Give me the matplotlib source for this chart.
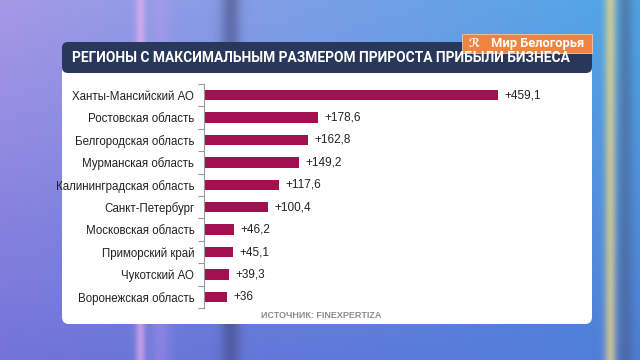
import numpy as np
import matplotlib
matplotlib.use("Agg")
import matplotlib.pyplot as plt
from matplotlib.patches import FancyBboxPatch, Rectangle

# Data
regions = ["Ханты-Мансийский АО", "Ростовская область", "Белгородская область",
           "Мурманская область", "Калининградская область", "Санкт-Петербург",
           "Московская область", "Приморский край", "Чукотский АО",
           "Воронежская область"]
growth = [459.1, 178.6, 162.8, 149.2, 117.6, 100.4, 46.2, 45.1, 39.3, 36]
value_labels = ["+459,1", "+178,6", "+162,8", "+149,2", "+117,6", "+100,4",
                "+46,2", "+45,1", "+39,3", "+36"]

title = "РЕГИОНЫ С МАКСИМАЛЬНЫМ РАЗМЕРОМ ПРИРОСТА ПРИБЫЛИ БИЗНЕСА"
source = "ИСТОЧНИК: FINEXPERTIZA"
logo = "Мир Белогорья"

W, H = 640, 360
fig = plt.figure(figsize=(6.4, 3.6), dpi=100)

# Blurred studio background
xx = np.linspace(0, 1, W)[None, :]
yy = np.linspace(0, 1, H)[:, None]
r = 0.45 - 0.15 * xx + 0.20 * (1 - yy) * (1 - xx)
g = 0.45 + 0.05 * xx + 0.15 * (1 - yy)
b = 0.85 + 0.05 * (1 - yy)
bg = np.stack([r + 0 * yy, g + 0 * yy, b + 0 * xx * yy], axis=-1)
def streak(cx, width, col, amount):
    global bg
    s = np.exp(-((np.arange(W) - cx) / width) ** 2)[None, :, None]
    bg = bg * (1 - amount * s) + np.array(col)[None, None, :] * amount * s
streak(140, 5, (0.95, 0.7, 0.95), 0.6)
streak(160, 10, (0.75, 0.6, 0.95), 0.35)
streak(230, 10, (0.25, 0.25, 0.45), 0.5)
streak(610, 6, (0.95, 0.85, 0.5), 0.7)
streak(625, 8, (0.3, 0.3, 0.4), 0.4)
bg = np.clip(bg, 0, 1)
bax = fig.add_axes([0, 0, 1, 1])
bax.imshow(bg, extent=[0, W, H, 0], aspect="auto")
bax.set_xlim(0, W)
bax.set_ylim(H, 0)
bax.axis("off")

# White panel and title banner
bax.add_patch(FancyBboxPatch((62, 50), 530, 274, boxstyle="round,pad=0,rounding_size=7",
                             fc="white", ec="none"))
bax.add_patch(FancyBboxPatch((62, 42), 530, 31, boxstyle="round,pad=0,rounding_size=6",
                             fc="#29375a", ec="none"))
bax.text(321, 58, title, color="white", fontsize=9.9, fontweight="bold",
         family="Roboto", ha="center", va="center")
bax.text(321, 316, source, color="#8c8c8c", fontsize=6.5, fontweight="bold",
         family="Liberation Sans", ha="center", va="center")

# Logo
bax.add_patch(Rectangle((462, 34), 130, 19, fc="#ee8440", ec="#f3c9a4", lw=0.6))
bax.text(469, 43.5, "ℛ", color="white", fontsize=8.5, fontweight="bold",
         ha="left", va="center", style="italic")
bax.text(538, 43.5, logo, color="white", fontsize=9.3, fontweight="bold",
         family="Roboto", ha="center", va="center")

# Bar chart
ax = fig.add_axes([204 / W, 1 - 308.2 / H, 320 / W, 224.4 / H])
y = np.arange(len(regions))
ax.barh(y, growth, height=0.46, color="#a2114f")
for yi, v, lab in zip(y, growth, value_labels):
    ax.text(v + 10, yi, lab, fontsize=8.5, family="Liberation Sans",
            color="#222222", va="center", ha="left")
ax.set_xlim(0, 500)
ax.set_ylim(len(regions) - 0.5, -0.5)
ax.set_yticks(y)
ax.set_yticklabels(regions, fontsize=8.3, family="Liberation Sans", color="#222222")
ax.set_yticks(np.arange(-0.5, len(regions)), minor=True)
ax.tick_params(axis="y", which="major", length=0, pad=7)
ax.tick_params(axis="y", which="minor", length=4, color="#999999", width=0.8)
ax.set_xticks([])
for side in ["top", "right", "bottom"]:
    ax.spines[side].set_visible(False)
ax.spines["left"].set_color("#999999")
ax.spines["left"].set_linewidth(0.8)
ax.patch.set_alpha(0)

fig.savefig("out.png", dpi=100)
